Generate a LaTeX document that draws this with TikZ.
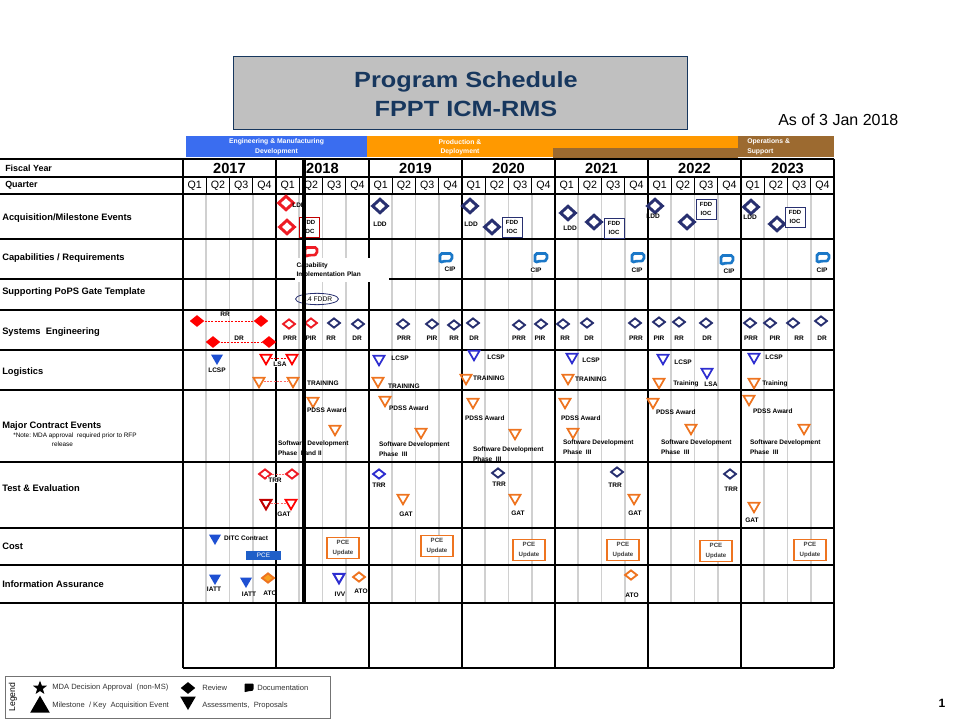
\documentclass[tikz,border=0pt]{standalone}
\usepackage{fontspec}
\setmainfont{Liberation Sans}
\usepackage{graphicx}
\usetikzlibrary{shapes.geometric}
\newcommand{\tagfont}{\fontsize{4.9}{7.4}\selectfont\bfseries}
\newcommand{\rowfont}{\fontsize{7}{8}\selectfont\bfseries}
\newcommand{\keyfont}{\fontsize{5.7}{6.5}\selectfont}
\definecolor{titleNavy}{HTML}{17375E}
\definecolor{titleGrey}{HTML}{C0C0C0}
\definecolor{emdBlue}{HTML}{3A6DF0}
\definecolor{pdOrange}{HTML}{FF9900}
\definecolor{osBrown}{HTML}{9C6A30}
\definecolor{gridGrey}{HTML}{D0D0D0}
\definecolor{revRed}{HTML}{EE1C25}
\definecolor{darkRed}{HTML}{C00000}
\definecolor{revNavy}{HTML}{283070}
\definecolor{asmBlue}{HTML}{2E2ED0}
\definecolor{asmFill}{HTML}{1E50D2}
\definecolor{asmOrange}{HTML}{EE7420}
\definecolor{atoOrange}{HTML}{F8A020}
\definecolor{cipBlue}{HTML}{1B78C8}
\definecolor{pceBlue}{HTML}{1F5FC8}

\begin{document}
\begin{tikzpicture}[
  x=0.75pt, y=-0.75pt,
  rev/.style={diamond, draw=#1, line width=1.4pt, minimum width=9.5pt,
    minimum height=7.5pt, inner sep=0pt},
  big rev/.style={rev=#1, line width=2.2pt, minimum width=12pt,
    minimum height=11pt},
  solid rev/.style={diamond, fill=#1, minimum width=11pt,
    minimum height=9pt, inner sep=0pt},
  asm/.style={regular polygon, regular polygon sides=3,
    shape border rotate=180, draw=#1, line width=1.3pt,
    minimum size=9.5pt, inner sep=0pt},
  solid asm/.style={regular polygon, regular polygon sides=3,
    shape border rotate=180, fill=#1, minimum size=10.5pt, inner sep=0pt},
  tag/.style={font=\tagfont, inner sep=0.6pt},
  tag left/.style={tag, anchor=west, align=left},
  mile box/.style={draw=#1, line width=0.7pt, fill=white,
    font=\fontsize{4.5}{7}\selectfont\bfseries, align=center,
    minimum width=15pt, minimum height=15pt, inner sep=0pt},
  pce box/.style={draw=asmOrange, line width=1pt, fill=white,
    font=\fontsize{4.6}{7}\selectfont\bfseries, text=black!75,
    align=center, minimum width=24pt, minimum height=15.5pt, inner sep=0pt},
  pair/.style={draw=#1, line width=0.5pt, dash pattern=on 1.5pt off 1pt},
  row head/.style={anchor=west, font=\rowfont, inner sep=0pt},
  band/.style={font=\fontsize{5.1}{7.5}\selectfont\bfseries, text=white,
    inner sep=0pt},
  key/.style={anchor=west, font=\keyfont, text=black!80, inner sep=0pt},
  pics/docmark/.style={code={
    \draw[draw=#1, line width=2pt, fill=white, rounded corners=1.4pt]
      (-6,-4.5) -- (6,-4.5) -- (6,2)
        .. controls (3,3.5) and (-2,2.5) .. (-6,5) -- cycle;}},
  pics/keydoc/.style={code={
    \fill[rounded corners=0.6pt]
      (-4.5,-4.5) -- (4.5,-4.5) -- (4.5,2)
        .. controls (2.5,3.5) and (-1.5,2.5) .. (-4.5,4.5) -- cycle;}}
]
\useasboundingbox (0,0) rectangle (960,720);

% Title and phase bands
\node[draw=titleNavy, line width=.8pt, fill=titleGrey, minimum width=341pt,
  minimum height=55pt, inner sep=0pt] (titleBox) at (460.5,93) {};
\node[anchor=base, text=titleNavy, font=\fontsize{16.5}{18}\selectfont\bfseries]
  (titleA) at (466,88) {\scalebox{1.15}[1]{Program Schedule}};
\node[anchor=base, text=titleNavy, font=\fontsize{16.5}{18}\selectfont\bfseries]
  (titleB) at (466,117) {\scalebox{1.15}[1]{FPPT ICM-RMS}};
\node[anchor=base west, font=\fontsize{12}{13}\selectfont, inner sep=0pt]
  (asOf) at (778,126) {As of 3 Jan 2018};

\fill[emdBlue] (186,136) rectangle (367,157);
\fill[pdOrange] (367,136) rectangle (738,157);
\fill[osBrown] (553,148) rectangle (738,158);
\fill[osBrown] (738,136) rectangle (834,157);
\node[band] (emdA) at (276.5,142) {Engineering \& Manufacturing};
\node[band] (emdB) at (276.5,152) {Development};
\node[band] (pdA) at (460,142) {Production \&};
\node[band] (pdB) at (460,152) {Deployment};
\node[band, anchor=west] (osA) at (747,142) {Operations \&};
\node[band, anchor=west] (osB) at (747,152) {Support};

% Grid
\foreach \yr in {0,...,6}
  \foreach \q in {1,2,3} {
    \draw[gridGrey, line width=1.4pt]
      ({183+93*\yr+23.25*\q},194) -- ({183+93*\yr+23.25*\q},603);
    \draw[line width=.6pt]
      ({183+93*\yr+23.25*\q},177) -- ({183+93*\yr+23.25*\q},194);
  }
\foreach \y in {159,177,194,239,279,310,350,390,462,528,565,603}
  \draw[line width=1pt] (0,\y) -- (834,\y);
\draw[line width=1pt] (183,668) -- (834,668);
\foreach \yr in {0,...,7}
  \draw[line width=1.1pt] ({183+93*\yr},159) -- ({183+93*\yr},668);

\foreach \yr [count=\i from 0] in {2017,...,2023}
  \node[font=\fontsize{11}{12}\selectfont\bfseries, inner sep=0pt]
    (fy\yr) at ({229.5+93*\i},168) {\yr};
\foreach \yr in {0,...,6}
  \foreach \q in {1,...,4}
    \node[font=\fontsize{8}{9}\selectfont, inner sep=0pt]
      (qtr\yr\q) at ({183+93*\yr+23.25*(\q-0.5)},186) {Q\q};

% Row headings
\node[row head, font=\fontsize{6.7}{8}\selectfont\bfseries] (hFy) at (5,168) {Fiscal Year};
\node[row head, font=\fontsize{6.7}{8}\selectfont\bfseries] (hQtr) at (5,185) {Quarter};
\node[row head] (hAcq) at (2,218) {Acquisition/Milestone Events};
\node[row head] (hCap) at (2,258) {Capabilities / Requirements};
\node[row head] (hPops) at (2,292) {Supporting PoPS Gate Template};
\node[row head] (hSe) at (2,332) {Systems\ \ Engineering};
\node[row head] (hLog) at (2,372) {Logistics};
\node[row head] (hMce) at (2,426) {Major\ Contract Events};
\node[anchor=west, font=\fontsize{4.8}{6.5}\selectfont, align=left, inner sep=0pt]
  (hNote) at (13,440) {*Note:\ MDA approval\ \ required prior to RFP\\
  \hspace*{29pt}release};
\node[row head] (hTe) at (2,488) {Test \& Evaluation};
\node[row head] (hCost) at (2,546) {Cost};
\node[row head] (hIa) at (2,584) {Information Assurance};

% Acquisition / milestone events
\node[big rev=revRed] (acqA) at (286,203) {};
\node[big rev=revRed] (acqB) at (287,227) {};
\node[tag] (acqAl) at (299,205) {LDD};
\node[mile box=darkRed] (acqBbox) at (309,227) {FDD\\IOC};
\node[big rev=revNavy] (acqC) at (380,206) {};
\node[tag] (acqCl) at (380,224) {LDD};
\node[big rev=revNavy] (acqD) at (470,206) {};
\node[tag] (acqDl) at (471,224) {LDD};
\node[big rev=revNavy] (acqE) at (492,227) {};
\node[mile box=revNavy] (acqEbox) at (512,227) {FDD\\IOC};
\node[big rev=revNavy] (acqF) at (568,213) {};
\node[tag] (acqFl) at (570,228) {LDD};
\node[big rev=revNavy] (acqG) at (594,222) {};
\node[mile box=revNavy] (acqGbox) at (614,228) {FDD\\IOC};
\node[big rev=revNavy] (acqH) at (655,206) {};
\node[tag] (acqHl) at (653,216) {LDD};
\node[big rev=revNavy] (acqI) at (687,222) {};
\node[mile box=revNavy] (acqIbox) at (706,209) {FDD\\IOC};
\node[big rev=revNavy] (acqJ) at (751,207) {};
\node[tag] (acqJl) at (750,217) {LDD};
\node[big rev=revNavy] (acqK) at (777,224) {};
\node[mile box=revNavy] (acqKbox) at (795,217) {FDD\\IOC};

% Capabilities / requirements
\pic (capDoc) at (311,252) {docmark=revRed};
\node[tag, fill=white, anchor=north west, align=left, text width=68pt,
  minimum height=18pt, inner sep=1pt] (capPlan) at (295,258)
  {Capability\\Implementation Plan};
\foreach \x/\y/\lx/\ly [count=\n] in
  {446/258/450/269, 541/258/536/270, 638/258/637/270,
   727/260/729/271, 823/258/822/270} {
  \pic (cip\n) at (\x,\y) {docmark=cipBlue};
  \node[tag, fill=white] (cipTag\n) at (\lx,\ly) {CIP};
}

% PoPS gate
\node[ellipse, draw=revNavy, line width=.6pt, minimum width=30.5pt,
  minimum height=8.5pt, inner sep=0pt, font=\fontsize{5}{6}\selectfont]
  (popsFddr) at (317,299) {S.4 FDDR};

% Systems engineering
\node[solid rev=red] (seRrA) at (197,321) {};
\node[solid rev=red] (seRrB) at (261,321) {};
\draw[pair=red] (seRrA) -- (seRrB);
\node[tag] (seRrL) at (225,314) {RR};
\node[solid rev=red] (seDrA) at (213,342) {};
\node[solid rev=red] (seDrB) at (269,342) {};
\draw[pair=red] (seDrA) -- (seDrB);
\node[tag] (seDrL) at (239,338) {DR};
\node[rev=revRed] (sePrrA) at (289,324) {};
\node[tag] (sePrrAl) at (290,338) {PRR};
\node[rev=revRed] (sePirA) at (311,323) {};
\node[tag] (sePirAl) at (311,338) {PIR};
\foreach \x/\y/\lx/\lab [count=\n] in
  {334/323/331/RR, 358/324/357/DR, 403/324/404/PRR, 432/324/432/PIR,
   454/325/454/RR, 473/323/474/DR, 519/325/519/PRR, 541/324/540/PIR,
   563/324/565/RR, 587/323/589/DR, 635/323/636/PRR, 659/322/659/PIR,
   679/322/679/RR, 706/323/707/DR, 750/323/751/PRR, 770/323/775/PIR,
   793/323/799/RR, 821/321/822/DR} {
  \node[rev=revNavy] (seRev\n) at (\x,\y) {};
  \node[tag] (seTag\n) at (\lx,338) {\lab};
}

% Logistics
\node[solid asm=asmFill] (logLcspA) at (217,358) {};
\node[tag] (logLcspAl) at (217,370) {LCSP};
\node[asm=red] (logLsaA) at (266,358) {};
\node[asm=red] (logLsaB) at (292,358) {};
\draw[pair=red] (logLsaA) -- (logLsaB);
\node[tag, fill=white] (logLsaL) at (280,364) {LSA};
\node[asm=asmOrange] (logTrnA) at (259,381) {};
\node[asm=asmOrange] (logTrnB) at (293,381) {};
\draw[pair=red!60] (logTrnA) -- (logTrnB);
\node[tag, anchor=west] (logTrnL) at (306,383) {TRAINING};
\foreach \x/\y/\lx/\ly [count=\n] in
  {379/359/400/358, 474/354/496/357, 572/357/591/360,
   663/358/683/362, 754/357/774/357} {
  \node[asm=asmBlue] (logLcsp\n) at (\x,\y) {};
  \node[tag] (logLcspTag\n) at (\lx,\ly) {LCSP};
}
\foreach \x/\y/\lx/\ly/\lab [count=\n] in
  {378/381/404/386/TRAINING, 466/378/489/378/TRAINING,
   568/378/591/379/TRAINING, 659/382/686/384/Training,
   754/382/775/384/Training} {
  \node[asm=asmOrange] (logTrn\n) at (\x,\y) {};
  \node[tag] (logTrnTag\n) at (\lx,\ly) {\lab};
}
\node[asm=asmBlue] (logLsaC) at (707,372) {};
\node[tag] (logLsaCl) at (711,384) {LSA};

% Major contract events
\foreach \x/\y/\lx/\ly [count=\n] in
  {313/401/306/410, 385/400/388/408, 473/402/464/418,
   565/402/560/418, 653/402/655/412, 749/399/752/411} {
  \node[asm=asmOrange] (mcePdss\n) at (\x,\y) {};
  \node[tag left] (mcePdssTag\n) at (\lx,\ly) {PDSS Award};
}
\node[asm=asmOrange] (mceSwA) at (335,429) {};
\node[tag left] (mceSwAl) at (277,448) {Software Development\\Phase\ \ I and II};
\foreach \x/\y/\lx/\ly [count=\n] in
  {421/432/378/449, 515/433/472/454, 573/432/562/447,
   691/428/660/447, 804/428/749/447} {
  \node[asm=asmOrange] (mceSw\n) at (\x,\y) {};
  \node[tag left] (mceSwTag\n) at (\lx,\ly) {Software Development\\Phase\ \ III};
}

% Test & evaluation
\node[rev=revRed] (teTrrA) at (265,474) {};
\node[rev=revRed] (teTrrB) at (292,474) {};
\draw[pair=red!60] (teTrrA) -- (teTrrB);
\node[tag, fill=white] (teTrrL) at (275,480) {TRR};
\node[asm=darkRed, line width=1.5pt] (teGatA) at (266,503) {};
\node[asm=red] (teGatB) at (291,503) {};
\draw[pair=red!60] (teGatA) -- (teGatB);
\node[tag] (teGatL) at (284,514) {GAT};
\node[rev=asmBlue] (teTrrC) at (379,474) {};
\node[tag] (teTrrCl) at (379,485) {TRR};
\foreach \x/\y/\lx/\ly [count=\n] in
  {498/473/499/484, 617/472/615/485, 730/474/731/489} {
  \node[rev=revNavy] (teTrr\n) at (\x,\y) {};
  \node[tag] (teTrrTag\n) at (\lx,\ly) {TRR};
}
\foreach \x/\y/\lx/\ly [count=\n] in
  {403/498/406/514, 515/498/518/513, 634/498/635/513, 754/506/752/520} {
  \node[asm=asmOrange] (teGat\n) at (\x,\y) {};
  \node[tag] (teGatTag\n) at (\lx,\ly) {GAT};
}

% Cost
\node[solid asm=asmFill] (costDitc) at (215,538) {};
\node[tag, anchor=west] (costDitcL) at (223,538) {DITC Contract};
\node[fill=pceBlue, text=white, font=\fontsize{4.8}{6}\selectfont,
  minimum width=26pt, minimum height=7pt, inner sep=0pt]
  (costPce) at (263.5,555.5) {PCE};
\foreach \x/\y [count=\n] in
  {343/548, 437/546, 529/550, 623/550, 716/551, 810/550}
  \node[pce box] (costUpd\n) at (\x,\y) {PCE\\Update};

% Information assurance
\node[solid asm=asmFill] (iaIattA) at (215,578) {};
\node[tag] (iaIattAl) at (214,589) {IATT};
\node[solid asm=asmFill] (iaIattB) at (246,581) {};
\node[tag] (iaIattBl) at (249,594) {IATT};
\node[rev=asmOrange, fill=atoOrange] (iaAtoA) at (268,578) {};
\node[tag] (iaAtoAl) at (270,593) {ATO};
\node[asm=asmBlue, line width=1.5pt] (iaIvv) at (339,577) {};
\node[tag] (iaIvvL) at (340,594) {IVV};
\node[rev=asmOrange] (iaAtoB) at (359,577) {};
\node[tag] (iaAtoBl) at (361,591) {ATO};
\node[rev=asmOrange] (iaAtoC) at (631,575) {};
\node[tag] (iaAtoCl) at (632,595) {ATO};

% Status date line, drawn over the rows
\coordinate (nowTop) at (304,158);
\coordinate (nowBot) at (304,604);
\draw[line width=3pt] (nowTop) -- (nowBot);

% Legend
\draw[black!55, line width=.7pt] (5,676) rectangle (330,718);
\node[rotate=90, font=\fontsize{6.5}{7}\selectfont, inner sep=0pt]
  (keyTitle) at (13,697) {Legend};
\node[star, star points=5, star point ratio=2.4, fill=black,
  minimum size=11pt, inner sep=0pt] (keyStar) at (40,688) {};
\node[key] (keyStarL) at (52,688) {MDA Decision Approval\ \ (non-MS)};
\node[regular polygon, regular polygon sides=3, fill=black,
  minimum size=17pt, inner sep=0pt] (keyMs) at (40,707) {};
\node[key] (keyMsL) at (52,706) {Milestone\ \ / Key\ \ Acquisition Event};
\node[diamond, fill=black, minimum width=11pt, minimum height=9pt,
  inner sep=0pt] (keyRev) at (188,688) {};
\node[key] (keyRevL) at (202,688) {Review};
\pic (keyDocIcon) at (249,688) {keydoc};
\node[key] (keyDocL) at (257,688) {Documentation};
\node[regular polygon, regular polygon sides=3, shape border rotate=180,
  fill=black, minimum size=13.5pt, inner sep=0pt] (keyAsm) at (188,701) {};
\node[key] (keyAsmL) at (202,706) {Assessments,\ \ Proposals};

\node[font=\fontsize{9}{10}\selectfont\bfseries, inner sep=0pt]
  (pageNo) at (942,703) {1};
\end{tikzpicture}
\end{document}
